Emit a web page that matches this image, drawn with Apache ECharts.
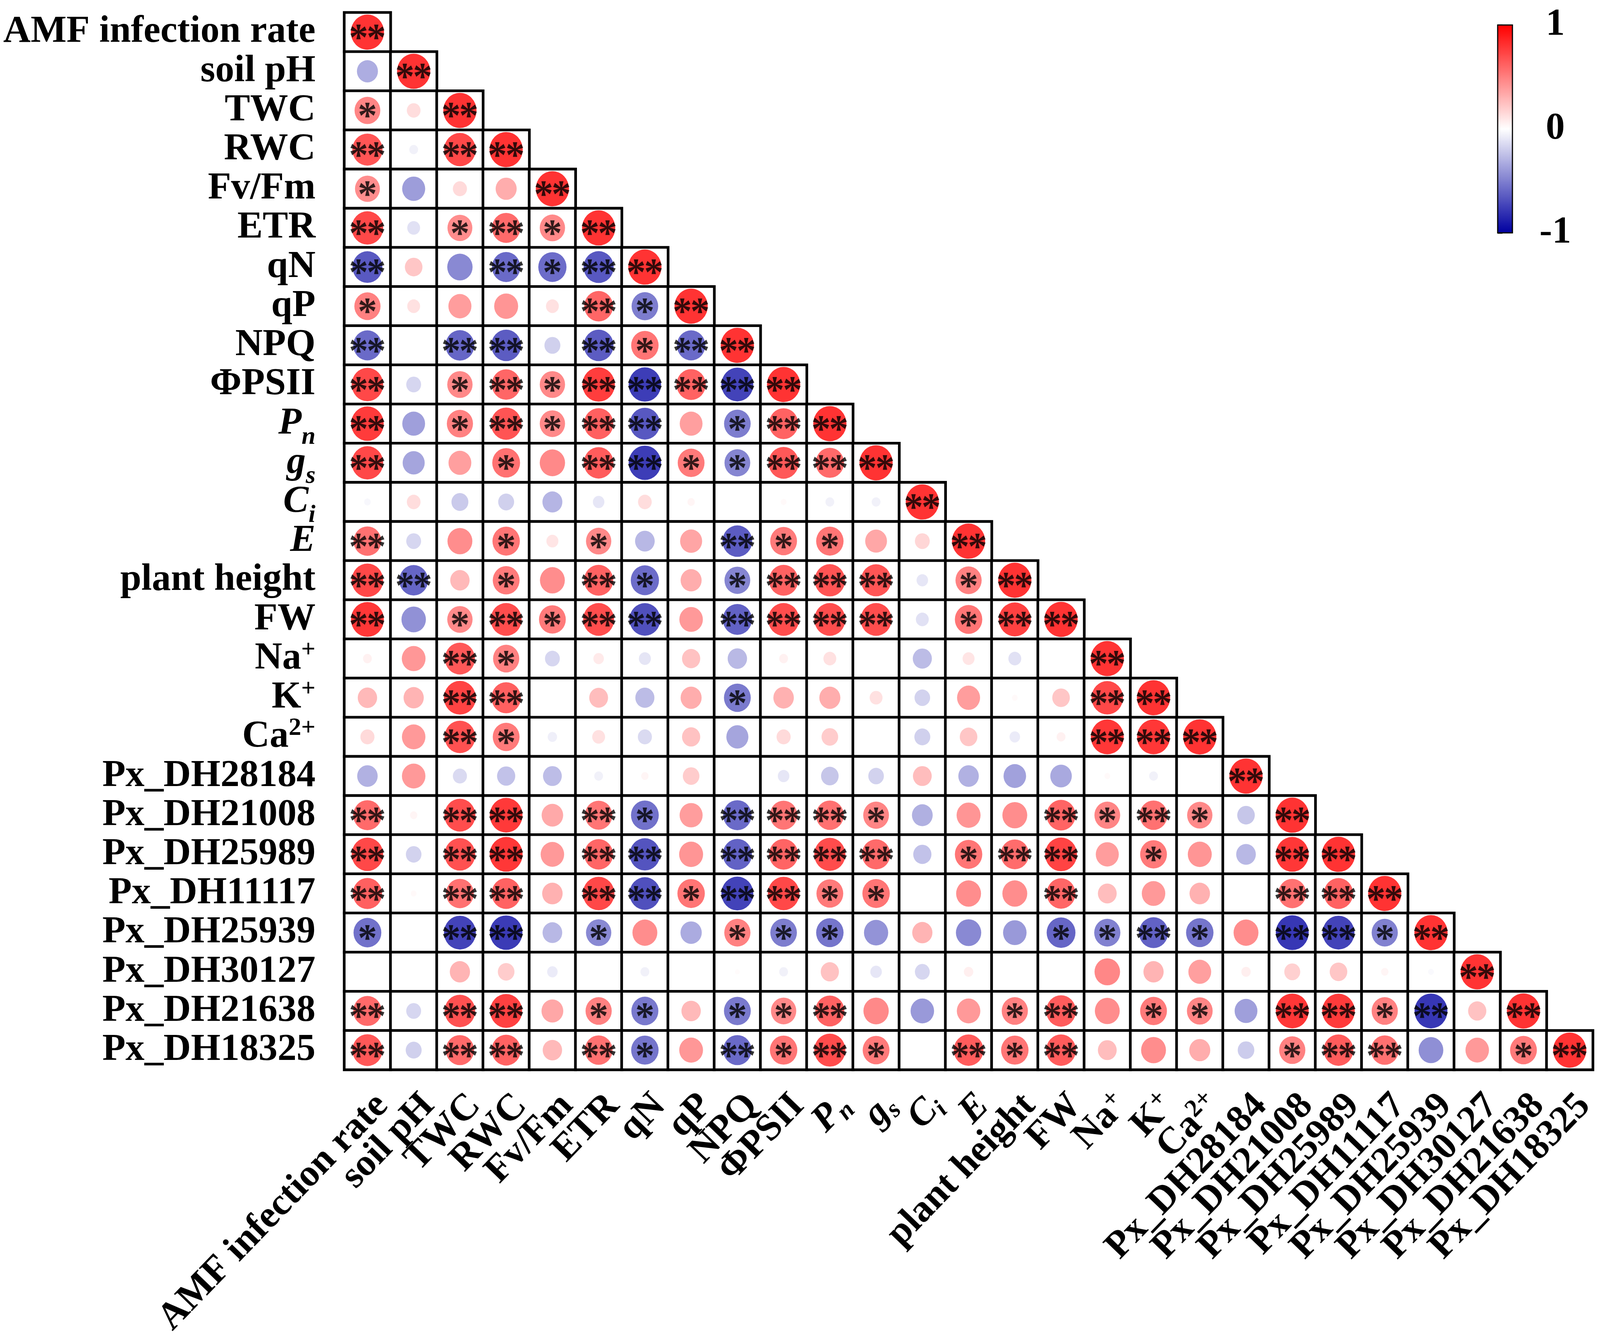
<!DOCTYPE html>
<html style="height: 100%">
<head>
    <meta charset="utf-8">
    <title>Correlation matrix</title>
    <script src="https://cdn.jsdelivr.net/npm/echarts@6/dist/echarts.min.js"></script>
</head>
<body style="height: 100%; margin: 0; background: #ffffff">
<div id="container" style="width: 100%; height: 100%"></div>
<script type="text/javascript">
    // variable names ({i|..} italic, {sub|..} subscript, {sup|..} superscript)
    var varLabels = [
        'AMF infection rate', 'soil pH', 'TWC', 'RWC', 'Fv/Fm', 'ETR', 'qN', 'qP', 'NPQ', 'ΦPSII',
        '{i|P}{sub|n}', '{i|g}{sub|s}', '{i|C}{sub|i}', '{i|E}', 'plant height', 'FW',
        'Na{sup|+}', 'K{sup|+}', 'Ca{sup|2+}',
        'Px_DH28184', 'Px_DH21008', 'Px_DH25989', 'Px_DH11117', 'Px_DH25939',
        'Px_DH30127', 'Px_DH21638', 'Px_DH18325'
    ];

    // lower triangle of the correlation matrix, row i holds columns 0..i
    var corrRows = [
        [1],
        [-0.40, 1],
        [0.60, 0.17, 1],
        [0.83, -0.07, 0.90, 1],
        [0.56, -0.48, 0.18, 0.40, 1],
        [0.90, -0.15, 0.56, 0.73, 0.58, 1],
        [-0.81, 0.28, -0.58, -0.73, -0.72, -0.82, 1],
        [0.62, 0.15, 0.48, 0.52, 0.15, 0.75, -0.64, 1],
        [-0.73, 0, -0.75, -0.80, -0.23, -0.80, 0.68, -0.73, 1],
        [0.90, -0.20, 0.58, 0.75, 0.58, 0.95, -0.95, 0.77, -0.92, 1],
        [0.96, -0.47, 0.62, 0.84, 0.58, 0.78, -0.82, 0.47, -0.64, 0.77, 1],
        [0.90, -0.44, 0.47, 0.70, 0.58, 0.80, -0.95, 0.65, -0.60, 0.82, 0.73, 1],
        [-0.04, 0.17, -0.26, -0.23, -0.36, -0.12, 0.17, 0.05, 0, 0.03, -0.07, -0.07, 1],
        [0.70, -0.20, 0.56, 0.68, 0.13, 0.58, -0.35, 0.44, -0.80, 0.65, 0.68, 0.43, 0.20, 1],
        [0.90, -0.75, 0.34, 0.65, 0.56, 0.77, -0.72, 0.40, -0.60, 0.77, 0.84, 0.83, -0.12, 0.62, 1],
        [0.98, -0.54, 0.58, 0.87, 0.65, 0.87, -0.86, 0.50, -0.77, 0.87, 0.87, 0.87, -0.15, 0.68, 0.93, 1],
        [0.07, 0.51, 0.82, 0.62, -0.20, 0.10, -0.13, 0.30, -0.34, 0.07, 0.15, 0, -0.33, 0.13, -0.15, 0, 1],
        [0.34, 0.37, 0.92, 0.78, 0, 0.32, -0.33, 0.40, -0.65, 0.38, 0.40, 0.15, -0.22, 0.48, 0.03, 0.28, 0.90, 1],
        [0.18, 0.50, 0.85, 0.65, -0.08, 0.15, -0.18, 0.30, -0.44, 0.18, 0.25, 0, -0.23, 0.28, -0.10, 0.07, 0.98, 0.98, 1],
        [-0.38, 0.50, -0.18, -0.30, -0.32, -0.07, 0.05, 0.25, 0, -0.12, -0.28, -0.22, 0.32, -0.38, -0.46, -0.42, 0.03, -0.07, 0, 1],
        [0.73, 0.05, 0.87, 0.97, 0.42, 0.68, -0.70, 0.48, -0.73, 0.68, 0.70, 0.60, -0.39, 0.52, 0.56, 0.76, 0.60, 0.70, 0.58, -0.28, 1],
        [0.90, -0.22, 0.85, 0.98, 0.50, 0.75, -0.84, 0.52, -0.77, 0.76, 0.88, 0.73, -0.30, 0.68, 0.72, 0.92, 0.48, 0.65, 0.52, -0.35, 0.98, 1],
        [0.78, 0.03, 0.70, 0.77, 0.38, 0.90, -0.86, 0.68, -0.92, 0.90, 0.65, 0.68, 0, 0.56, 0.56, 0.75, 0.32, 0.50, 0.38, 0, 0.70, 0.77, 1],
        [-0.70, 0, -0.92, -0.96, -0.35, -0.58, 0.56, -0.41, 0.62, -0.64, -0.68, -0.53, 0.37, -0.58, -0.50, -0.75, -0.62, -0.77, -0.68, 0.56, -0.98, -0.92, -0.62, 1],
        [0, 0, 0.37, 0.25, -0.10, 0, -0.07, 0, 0.02, -0.07, 0.30, -0.12, -0.20, 0.08, 0, 0, 0.59, 0.37, 0.47, 0.08, 0.23, 0.28, 0.05, -0.03, 1],
        [0.73, -0.20, 0.85, 0.93, 0.43, 0.62, -0.66, 0.34, -0.65, 0.58, 0.77, 0.58, -0.50, 0.50, 0.62, 0.80, 0.56, 0.65, 0.60, -0.47, 0.98, 0.96, 0.62, -0.98, 0.30, 1],
        [0.82, -0.23, 0.73, 0.77, 0.34, 0.70, -0.68, 0.51, -0.73, 0.68, 0.88, 0.65, 0, 0.80, 0.68, 0.80, 0.32, 0.56, 0.40, -0.25, 0.62, 0.80, 0.70, -0.55, 0.50, 0.65, 1]
    ];

    // significance per cell: 2 = **, 1 = *, 0 = none
    var sigRows = [
        '2',
        '02',
        '102',
        '2022',
        '10002',
        '201212',
        '2002122',
        '10000212',
        '202202122',
        '2012122222',
        '20121220122',
        '200102211222',
        '0000000000002',
        '20010100211002',
        '220102101222012',
        '2012122022220122',
        '00210000000000002',
        '002200001000000022',
        '0021000000000000222',
        '00000000000000000002',
        '202202102221000212102',
        '2022022022220122010022',
        '20220221221100020000222',
        '102201001110000112102212',
        '0000000000000000000000002',
        '20220110112000120110221202',
        '202202102121021200001220012'
    ];

    var barLabels = [-1, 0, 1];

    var fontName = 'Liberation Serif';
    var starText = ['', '{s|*}', '{s|*}{s|*}'];

    var dom = document.getElementById('container');
    var myChart = echarts.init(dom);

    // layout was measured on a 4331 x 3435 picture, scale it to the real canvas
    var sx = myChart.getWidth() / 4331;
    var sy = myChart.getHeight() / 3435;
    var sf = (sx + sy) / 2;
    function X(v) { return v * sx; }
    function Y(v) { return v * sy; }
    function F(v) { return v * sf; }

    var cells = [];
    var points = [];
    for (var i = 0; i < corrRows.length; i++) {
        for (var j = 0; j < corrRows[i].length; j++) {
            var r = corrRows[i][j];
            cells.push([j, i, r]);
            points.push([j, i, r, starText[parseInt(sigRows[i].charAt(j), 10)]]);
        }
    }

    function richFor(lineH, subPad, supPad) {
        return {
            i: {fontFamily: fontName, fontWeight: 'bold', fontStyle: 'italic', fontSize: F(100), lineHeight: F(lineH), color: '#000'},
            sub: {fontFamily: fontName, fontWeight: 'bold', fontStyle: 'italic', fontSize: F(66), verticalAlign: 'top', padding: [F(subPad), 0, 0, 0], color: '#000'},
            sup: {fontFamily: fontName, fontWeight: 'bold', fontSize: F(66), verticalAlign: 'top', padding: [F(supPad), 0, 0, 0], color: '#000'}
        };
    }

    var option = {
        animation: false,
        backgroundColor: '#ffffff',
        grid: [
            {left: X(932), top: Y(9), width: X(3386), height: Y(2729)},
            {
                left: X(4054), top: Y(64), width: X(40), height: Y(532), z: 10,
                show: true, backgroundColor: 'transparent', borderColor: '#000', borderWidth: F(3)
            }
        ],
        xAxis: [
            {
                type: 'category',
                gridIndex: 0,
                data: varLabels,
                axisLine: {show: false},
                axisTick: {show: false},
                splitLine: {show: false},
                axisLabel: {
                    interval: 0,
                    rotate: 46,
                    align: 'right',
                    verticalAlign: 'top',
                    margin: Y(41),
                    lineHeight: F(108),
                    fontFamily: fontName,
                    fontWeight: 'bold',
                    fontSize: F(100),
                    color: '#000',
                    rich: richFor(108, 46, 0)
                }
            },
            {type: 'value', gridIndex: 1, show: false, min: 0, max: 1}
        ],
        yAxis: [
            {
                type: 'category',
                gridIndex: 0,
                inverse: true,
                data: varLabels,
                axisLine: {show: false},
                axisTick: {show: false},
                splitLine: {show: false},
                axisLabel: {
                    interval: 0,
                    margin: X(78),
                    lineHeight: F(170),
                    fontFamily: fontName,
                    fontWeight: 'bold',
                    fontSize: F(100),
                    color: '#000',
                    rich: richFor(170, 88, 30)
                }
            },
            {
                type: 'value',
                gridIndex: 1,
                position: 'right',
                min: -1,
                max: 1,
                interval: 0.2,
                axisLine: {show: false},
                splitLine: {show: false},
                axisTick: {show: true, length: X(13), lineStyle: {color: '#000', width: F(3.5)}},
                axisLabel: {
                    margin: X(116),
                    align: 'center',
                    fontFamily: fontName,
                    fontWeight: 'bold',
                    fontSize: F(100),
                    color: '#000',
                    formatter: function (v) {
                        var k = Math.round(v * 10) / 10;
                        return barLabels.indexOf(k) >= 0 ? String(k) : '';
                    }
                }
            }
        ],
        visualMap: {
            type: 'continuous',
            seriesIndex: 1,
            dimension: 2,
            min: -1,
            max: 1,
            orient: 'vertical',
            left: X(4054),
            top: Y(64),
            itemWidth: X(40),
            itemHeight: Y(532),
            padding: 0,
            calculable: false,
            hoverLink: false,
            inRange: {color: ['#0000a0', '#ffffff', '#ff0000']}
        },
        series: [
            {
                type: 'heatmap',
                xAxisIndex: 0,
                yAxisIndex: 0,
                data: cells,
                silent: true,
                itemStyle: {color: '#ffffff', borderColor: '#000000', borderWidth: F(7)}
            },
            {
                type: 'scatter',
                xAxisIndex: 0,
                yAxisIndex: 0,
                data: points,
                silent: true,
                z: 3,
                symbol: 'circle',
                symbolSize: function (val) {
                    var d = 90 * Math.sqrt(Math.abs(val[2]));
                    return [X(d), Y(d)];
                },
                label: {
                    show: true,
                    position: 'inside',
                    offset: [0, Y(20)],
                    formatter: function (p) { return p.data[3]; },
                    rich: {
                        s: {
                            fontFamily: fontName, fontWeight: 'bold', fontSize: F(102),
                            width: X(48), align: 'center', color: '#000'
                        }
                    }
                }
            }
        ]
    };

    myChart.setOption(option, true);
</script>
</body>
</html>
